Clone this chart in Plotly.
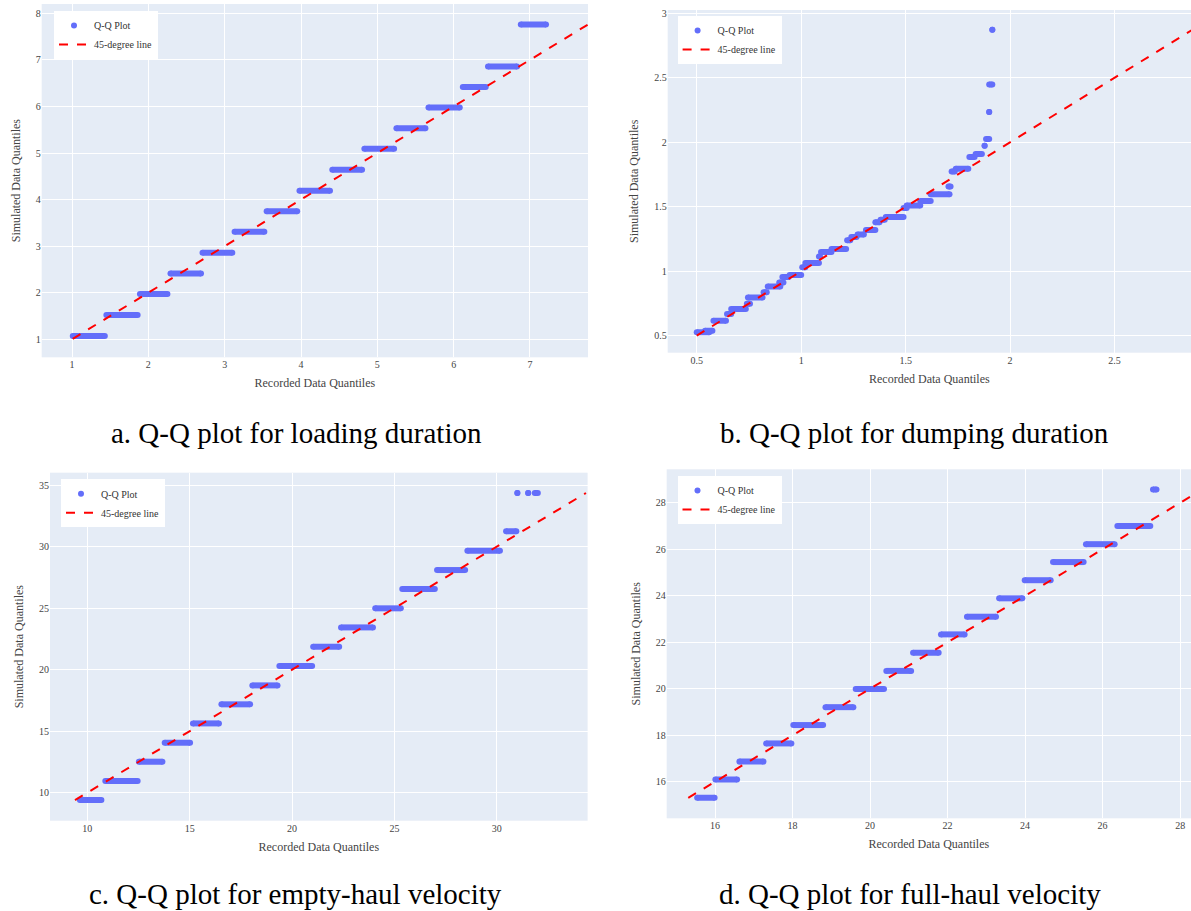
import plotly.graph_objects as go

FONT = "Times New Roman, Liberation Serif, Times, serif"
BLUE = "#636efa"
W, H = 1191, 911

# ---------------- data ----------------
# a. loading duration: each step = simulated value over a run of recorded quantiles
a_sim = [1.07, 1.52, 1.97, 2.41, 2.86, 3.31, 3.75, 4.19, 4.64, 5.09, 5.53, 5.98, 6.42, 6.86, 7.76]
a_rec_from = [1.01, 1.45, 1.89, 2.29, 2.71, 3.13, 3.55, 3.98, 4.41, 4.83, 5.25, 5.67, 6.12, 6.45, 6.88]
a_rec_to = [1.43, 1.86, 2.25, 2.69, 3.10, 3.52, 3.95, 4.38, 4.80, 5.22, 5.63, 6.08, 6.42, 6.83, 7.21]

# b. dumping duration
b_sim = [0.526, 0.539, 0.616, 0.668, 0.707, 0.748, 0.797, 0.836, 0.882, 0.913, 0.955, 0.970,
         1.030, 1.063, 1.115, 1.149, 1.172, 1.240, 1.265, 1.285, 1.320, 1.380, 1.400, 1.420,
         1.490, 1.510, 1.544, 1.596, 1.658, 1.774, 1.795, 1.885, 1.910, 1.973, 2.025, 2.234,
         2.448, 2.872]
b_rec_from = [0.500, 0.540, 0.580, 0.645, 0.665, 0.740, 0.745, 0.820, 0.840, 0.895, 0.910, 0.945,
              1.005, 1.020, 1.085, 1.095, 1.145, 1.220, 1.240, 1.270, 1.310, 1.355, 1.380, 1.405,
              1.490, 1.505, 1.570, 1.620, 1.705, 1.720, 1.740, 1.805, 1.835, 1.878, 1.885, 1.900,
              1.900, 1.915]
b_rec_to = [0.560, 0.575, 0.640, 0.665, 0.735, 0.755, 0.815, 0.835, 0.900, 0.915, 0.940, 1.000,
            1.020, 1.085, 1.090, 1.145, 1.215, 1.235, 1.265, 1.300, 1.355, 1.375, 1.400, 1.490,
            1.505, 1.570, 1.620, 1.710, 1.715, 1.735, 1.800, 1.830, 1.865, 1.878, 1.900, 1.900,
            1.915, 1.915]

# c. empty-haul velocity
c_sim = [9.40, 10.95, 12.52, 14.06, 15.63, 17.18, 18.72, 20.29, 21.86, 23.43, 24.98, 26.55,
         28.09, 29.66, 31.24, 34.35, 34.35, 34.35]
c_rec_from = [9.64, 10.88, 12.52, 13.78, 15.16, 16.55, 18.06, 19.38, 21.03, 22.39, 24.06, 25.38,
              27.08, 28.56, 30.45, 31.00, 31.53, 31.85]
c_rec_to = [10.69, 12.46, 13.67, 15.02, 16.43, 17.95, 19.29, 20.98, 22.30, 23.95, 25.31, 26.97,
            28.45, 30.15, 30.95, 31.00, 31.53, 32.00]

# d. full-haul velocity
d_sim = [15.31, 16.10, 16.87, 17.65, 18.44, 19.21, 19.99, 20.77, 21.55, 22.34, 23.10, 23.89,
         24.67, 25.45, 26.22, 27.00, 28.57]
d_rec_from = [15.54, 16.01, 16.63, 17.32, 18.02, 18.85, 19.63, 20.42, 21.11, 21.83, 22.50, 23.33,
              23.99, 24.72, 25.57, 26.38, 27.30]
d_rec_to = [15.99, 16.57, 17.25, 17.97, 18.79, 19.57, 20.36, 21.06, 21.77, 22.44, 23.25, 23.93,
            24.66, 25.51, 26.31, 27.23, 27.39]

captions = ["a. Q-Q plot for loading duration", "b. Q-Q plot for dumping duration",
            "c. Q-Q plot for empty-haul velocity", "d. Q-Q plot for full-haul velocity"]

# ---------------- layout geometry (pixels) ----------------
panels = [
    dict(sim=a_sim, r0=a_rec_from, r1=a_rec_to, box=(41.7, 588, 4, 357.3),
         xr=[0.603, 7.76], yr=[0.613, 8.2], dt=1, leg=(54, 11), cap=(296.5, 433)),
    dict(sim=b_sim, r0=b_rec_from, r1=b_rec_to, box=(667.7, 1191, 10, 352.7),
         xr=[0.361, 2.866], yr=[0.368, 3.026], dt=0.5, leg=(677.6, 16), cap=(914, 433)),
    dict(sim=c_sim, r0=c_rec_from, r1=c_rec_to, box=(50, 587.6, 472.7, 820.7),
         xr=[8.18, 34.43], yr=[7.725, 36.0], dt=5, leg=(61, 479.3), cap=(295, 894)),
    dict(sim=d_sim, r0=d_rec_from, r1=d_rec_to, box=(666.7, 1191, 469.3, 818.3),
         xr=[14.754, 28.28], yr=[14.43, 29.44], dt=2, leg=(677.5, 476), cap=(910, 894)),
]

fig = go.Figure()
annotations = []
for i, p in enumerate(panels):
    n = "" if i == 0 else str(i + 1)
    xa, ya, lg = "x" + n, "y" + n, "legend" + n
    xs, ys = [], []
    for s, e, v in zip(p["r0"], p["r1"], p["sim"]):
        xs += [s, e, None]
        ys += [v, v, None]
    fig.add_trace(go.Scatter(x=xs, y=ys, mode="lines", line=dict(color=BLUE, width=6),
                             showlegend=False, hoverinfo="skip", xaxis=xa, yaxis=ya))
    fig.add_trace(go.Scatter(x=p["r0"] + p["r1"], y=p["sim"] + p["sim"], mode="markers",
                             marker=dict(color=BLUE, size=6), name="Q-Q Plot", legend=lg,
                             xaxis=xa, yaxis=ya))
    lo = min(min(p["sim"]), min(p["r0"]))
    hi = max(max(p["sim"]), max(p["r1"]))
    fig.add_trace(go.Scatter(x=[lo, hi], y=[lo, hi], mode="lines",
                             line=dict(color="red", dash="dash", width=2),
                             name="45-degree line", legend=lg, xaxis=xa, yaxis=ya))

    l, r, t, b = p["box"]
    axis_common = dict(gridcolor="white", automargin=False, showline=False, zeroline=False,
                       tickfont=dict(family=FONT, size=10, color="#444"))
    fig.update_layout(**{
        "xaxis" + n: dict(domain=[l / W, min(r / W, 1.0)], range=p["xr"], dtick=p["dt"],
                          anchor=ya,
                          title=dict(text="Recorded Data Quantiles", standoff=9,
                                     font=dict(family=FONT, size=12, color="#444")),
                          **axis_common),
        "yaxis" + n: dict(domain=[(H - b) / H, (H - t) / H], range=p["yr"], dtick=p["dt"],
                          anchor=xa,
                          title=dict(text="Simulated Data Quantiles", standoff=12,
                                     font=dict(family=FONT, size=12, color="#444")),
                          **axis_common),
        lg: dict(x=p["leg"][0] / W, y=(H - p["leg"][1]) / H, xanchor="left", yanchor="top",
                 bgcolor="white", font=dict(family=FONT, size=10, color="#333"),
                 tracegroupgap=0),
    })
    annotations.append(dict(text=captions[i], x=p["cap"][0] / W, y=(H - p["cap"][1]) / H,
                            xref="paper", yref="paper", xanchor="center", yanchor="middle",
                            showarrow=False, font=dict(family=FONT, size=29, color="black")))

fig.update_layout(width=W, height=H, margin=dict(l=0, r=0, t=0, b=0),
                  paper_bgcolor="white", plot_bgcolor="#E5ECF6",
                  font=dict(family=FONT), annotations=annotations)

fig.write_html("out.html", config={"displayModeBar": False},
               post_script="document.body.style.margin='0';")
